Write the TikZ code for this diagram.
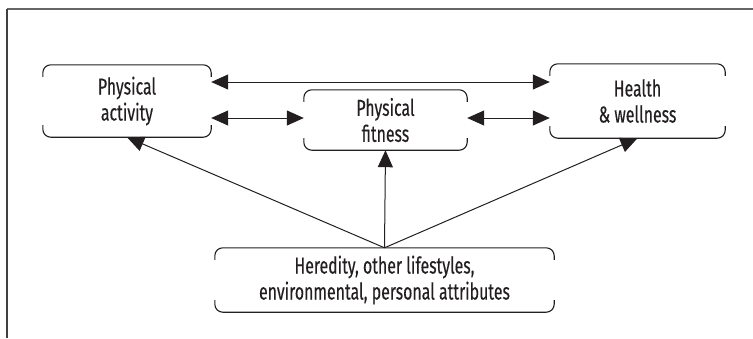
\documentclass[tikz,border=0pt]{standalone}
\usepackage{fontspec}
\setmainfont{Fira Sans}[FakeStretch=0.69, FakeBold=0.3]
\usetikzlibrary{arrows.meta}
\definecolor{ink}{HTML}{231F20}
\tikzset{
  box/.style={draw=none, minimum width=#1, inner sep=0pt, align=center, text=ink,
    font=\fontsize{23}{26}\selectfont},
  boxline/.style={draw=ink, line width=1.1pt, rounded corners=8pt},
  conn/.style={draw=ink, line width=1pt, -{Triangle[length=17pt,width=15pt]}},
  dconn/.style={draw=ink, line width=1pt, {Triangle[length=17pt,width=15pt]}-{Triangle[length=17pt,width=15pt]}},
}
\newcommand{\bracketbox}[1]{%
  \draw[boxline] ([yshift=-12pt]#1.north west) -- (#1.north west) -- (#1.north east) -- ([yshift=-12pt]#1.north east);
  \draw[boxline] ([yshift=12pt]#1.south west) -- (#1.south west) -- (#1.south east) -- ([yshift=12pt]#1.south east);
}
\begin{document}
\begin{tikzpicture}[x=1pt,y=-1pt]
\useasboundingbox (0,0) rectangle (753,338);
\draw[gray!80!black, line width=1.2pt] (7,9) -- (753,9);
\draw[black!75, line width=1.2pt] (7,9) -- (7,338);

\node[box=168pt, minimum height=72pt] (b1) at (127,101) {Physical\\activity};
\node[box=163pt, minimum height=60pt] (b2) at (385.5,120) {Physical\\fitness};
\node[box=175pt, minimum height=74pt] (b3) at (637.5,101) {Health\\\&~wellness};
\node[box=339pt, minimum height=64pt] (b4) at (384.5,280) {Heredity, other lifestyles,\\environmental, personal attributes};

\bracketbox{b1}
\bracketbox{b2}
\bracketbox{b3}
\bracketbox{b4}

\draw[dconn] ([yshift=19pt]b1.east) -- ([yshift=19pt]b3.west);
\draw[dconn] ([yshift=-17pt]b1.east) -- ([yshift=2pt]b2.west);
\draw[dconn] ([yshift=2pt]b2.east) -- ([yshift=-17pt]b3.west);

\draw[conn] (b4.north) -- (b1.south);
\draw[conn] (b4.north) -- (b2.south);
\draw[conn] (b4.north) -- (b3.south);
\end{tikzpicture}
\end{document}
